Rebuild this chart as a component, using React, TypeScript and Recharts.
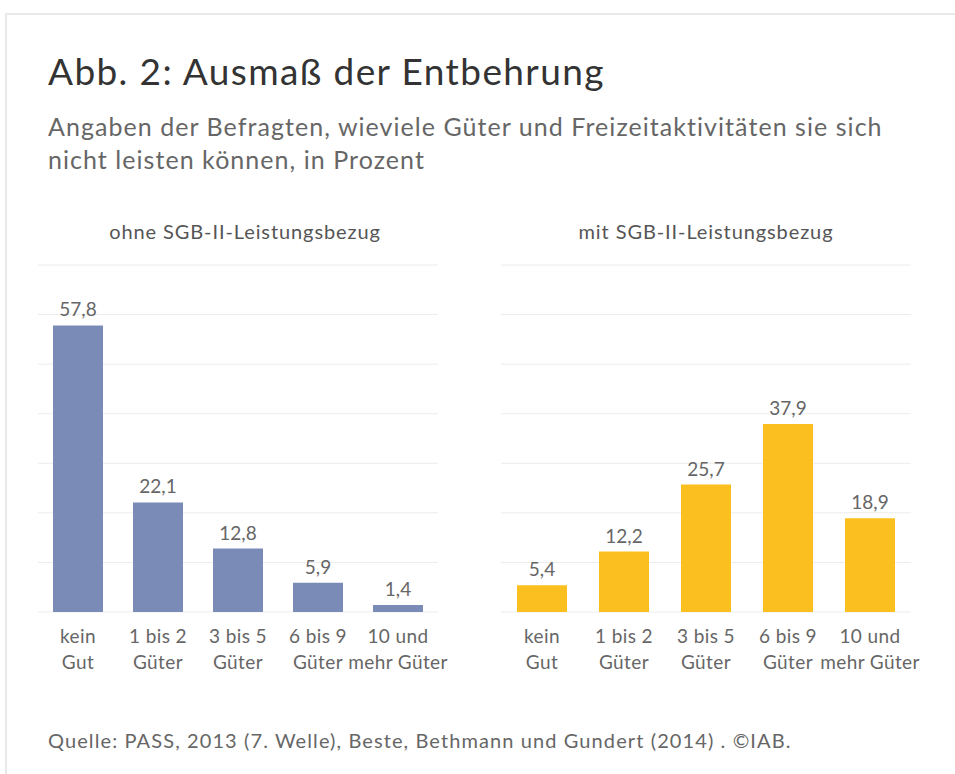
import React from "react"
import { BarChart, Bar, XAxis, YAxis, CartesianGrid, LabelList } from "recharts"

const categories = ["kein\nGut", "1 bis 2\nGüter", "3 bis 5\nGüter", "6 bis 9\nGüter", "10 und\nmehr Güter"]
const ohneValues = [57.8, 22.1, 12.8, 5.9, 1.4]
const mitValues = [5.4, 12.2, 25.7, 37.9, 18.9]
const yTicks = [0, 10, 20, 30, 40, 50, 60, 70]

const FONT = "Lato, 'Open Sans', sans-serif"

const ohneData = categories.map((c, i) => ({ cat: c, value: ohneValues[i] }))
const mitData = categories.map((c, i) => ({ cat: c, value: mitValues[i] }))

const fmt = (v: any) => Number(v).toFixed(1).replace(".", ",")

const CatTick = (props: any) => {
  const { x, y, payload } = props
  const lines = String(payload.value).split("\n")
  return (
    <g transform={`translate(${x},${y})`}>
      {lines.map((l, i) => (
        <text
          key={i}
          x={0}
          y={i * 26 + 23}
          textAnchor="middle"
          fill="#666"
          fontSize={19}
          letterSpacing={0.4}
          fontFamily={FONT}
        >
          {l}
        </text>
      ))}
    </g>
  )
}

const Panel = ({ data, color, width, marginLeft, marginRight }: any) => (
  <BarChart
    width={width}
    height={450}
    data={data}
    margin={{ top: 15, right: marginRight, left: marginLeft, bottom: 28 }}
    barCategoryGap={30}
  >
    <CartesianGrid vertical={false} stroke="#ececec" />
    <XAxis
      dataKey="cat"
      axisLine={false}
      tickLine={false}
      interval={0}
      height={60}
      tick={<CatTick />}
    />
    <YAxis hide domain={[0, 70]} ticks={yTicks} />
    <Bar dataKey="value" fill={color} barSize={50} isAnimationActive={false}>
      <LabelList
        dataKey="value"
        position="top"
        offset={9}
        formatter={fmt}
        fill="#666"
        fontSize={19}
        fontFamily={FONT}
      />
    </Bar>
  </BarChart>
)

export default function App() {
  return (
    <div
      style={{
        position: "absolute",
        left: 0,
        top: 0,
        width: 955,
        height: 774,
        background: "#fff",
        fontFamily: FONT,
        overflow: "hidden",
      }}
    >
      <div
        style={{
          position: "absolute",
          left: 5,
          top: 13,
          width: 960,
          height: 780,
          borderLeft: "2px solid #e8e8e8",
          borderTop: "2px solid #e8e8e8",
        }}
      />
      <div style={{ position: "absolute", left: 48, top: 49, fontSize: 37, letterSpacing: 1.4, color: "#333", lineHeight: "44px" }}>
        Abb. 2: Ausmaß der Entbehrung
      </div>
      <div style={{ position: "absolute", left: 48, top: 110, width: 900, fontSize: 25, letterSpacing: 1.05, color: "#666", lineHeight: "33px" }}>
        Angaben der Befragten, wieviele Güter und Freizeitaktivitäten sie sich
        <br />
        nicht leisten können, in Prozent
      </div>
      <div style={{ position: "absolute", left: 38, top: 219, width: 414, textAlign: "center", fontSize: 20, letterSpacing: 0.9, color: "#555" }}>
        ohne SGB-II-Leistungsbezug
      </div>
      <div style={{ position: "absolute", left: 501, top: 219, width: 410, textAlign: "center", fontSize: 20, letterSpacing: 0.9, color: "#555" }}>
        mit SGB-II-Leistungsbezug
      </div>
      <div style={{ position: "absolute", left: 0, top: 250 }}>
        <Panel data={ohneData} color="#7b8bb8" width={470} marginLeft={38} marginRight={32} />
      </div>
      <div style={{ position: "absolute", left: 470, top: 250 }}>
        <Panel data={mitData} color="#fbbf1f" width={470} marginLeft={31} marginRight={29} />
      </div>
      <div style={{ position: "absolute", left: 48, top: 728, fontSize: 20, letterSpacing: 1.1, color: "#666" }}>
        Quelle: PASS, 2013 (7. Welle), Beste, Bethmann und Gundert (2014) . ©IAB.
      </div>
    </div>
  )
}
